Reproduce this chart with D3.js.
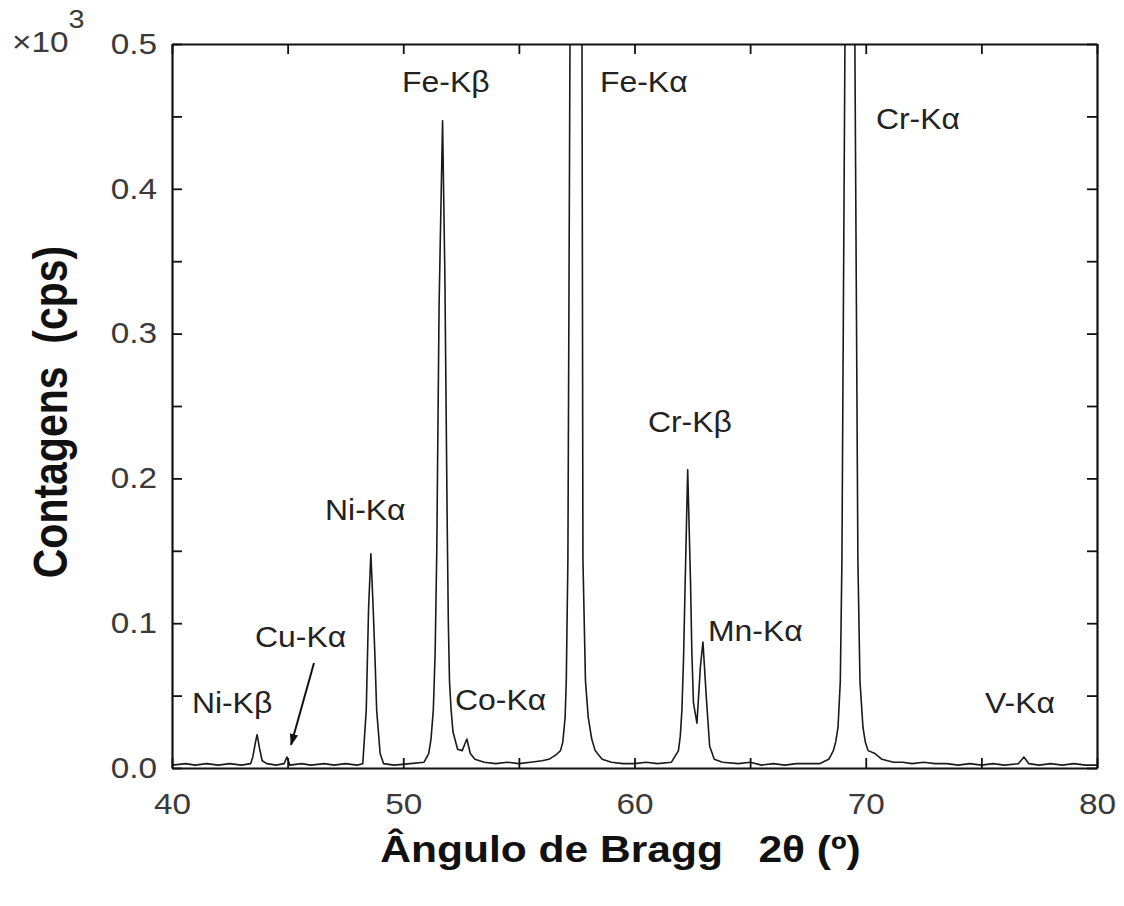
<!DOCTYPE html>
<html>
<head>
<meta charset="utf-8">
<script src="https://cdn.jsdelivr.net/npm/d3@7"></script>
<style>
  body { margin: 0; background: #fff; }
  text { font-family: "Liberation Sans", Arial, sans-serif; }
</style>
</head>
<body>
<div id="chart"></div>
<script>
// spectrum: 2theta (deg) and counts (x10^3 cps)
const theta = [
  40.0, 40.6, 41.0, 41.5, 42.0, 42.5, 43.0, 43.4, 43.5, 43.6, 43.68, 43.78, 43.9, 44.1, 44.5, 44.85, 44.97, 45.1, 45.6, 46.0, 46.6, 47.0, 47.5, 48.0,
  48.25, 48.4, 48.45, 48.5, 48.6, 48.7, 48.78, 48.85, 49.0, 49.15, 49.6, 50.3,
  50.9, 51.1, 51.2, 51.3, 51.38, 51.45, 51.55, 51.7, 51.8, 51.9, 51.95, 52.0, 52.07, 52.15, 52.35, 52.55, 52.75, 52.9, 53.1, 53.5, 54.0, 54.5, 55.0, 55.5, 56.0, 56.3, 56.5,
  56.6, 56.8, 56.9, 57.0, 57.05, 57.12, 57.21, 57.3, 57.47, 57.65, 57.73, 57.77, 57.88, 58.0, 58.15, 58.3, 58.45, 58.6, 59.0, 59.5, 60.0, 60.5, 61.0, 61.6,
  61.9, 61.98, 62.05, 62.12, 62.18, 62.3, 62.42, 62.48, 62.55, 62.7, 62.85, 62.96, 63.1, 63.25, 63.45, 63.8, 64.5, 65.0, 65.5, 66.0, 66.5, 67.0, 67.5, 68.0,
  68.4, 68.6, 68.7, 68.8, 68.9, 68.97, 69.1, 69.2, 69.3, 69.42, 69.53, 69.66, 69.75, 69.88, 69.98, 70.1, 70.4, 70.7, 71.2, 71.6, 72.0, 72.5, 73.0, 73.5, 74.0, 74.5, 75.0,
  75.5, 76.0, 76.6, 76.84, 77.05, 77.5, 78.0, 78.5, 79.0, 79.5, 80.0
];
const counts = [
  0.002, 0.003, 0.002, 0.003, 0.002, 0.003, 0.002, 0.003, 0.008, 0.017, 0.023, 0.014, 0.005, 0.003, 0.002, 0.003, 0.0076, 0.002, 0.003, 0.002, 0.003, 0.002, 0.003, 0.002,
  0.003, 0.04, 0.075, 0.11, 0.148, 0.11, 0.075, 0.04, 0.01, 0.003, 0.002, 0.003,
  0.004, 0.01, 0.02, 0.04, 0.08, 0.15, 0.32, 0.447, 0.34, 0.17, 0.1, 0.06, 0.04, 0.025, 0.013, 0.012, 0.02, 0.01, 0.006, 0.004, 0.003, 0.004, 0.003, 0.004, 0.005, 0.006, 0.008,
  0.009, 0.012, 0.018, 0.035, 0.06, 0.144, 0.5, 1.2, 2.0, 1.2, 0.5, 0.144, 0.06, 0.035, 0.02, 0.012, 0.009, 0.006, 0.004, 0.003, 0.003, 0.004, 0.003, 0.004,
  0.012, 0.022, 0.04, 0.075, 0.12, 0.206, 0.13, 0.08, 0.045, 0.031, 0.07, 0.087, 0.05, 0.015, 0.006, 0.004, 0.003, 0.004, 0.002, 0.003, 0.002, 0.003, 0.003, 0.003,
  0.006, 0.012, 0.018, 0.028, 0.06, 0.144, 0.5, 1.2, 2.0, 1.2, 0.5, 0.144, 0.06, 0.028, 0.018, 0.012, 0.01, 0.006, 0.004, 0.004, 0.003, 0.004, 0.003, 0.003, 0.002, 0.003, 0.002,
  0.003, 0.002, 0.003, 0.0076, 0.003, 0.002, 0.003, 0.002, 0.003, 0.002, 0.002
];

// tick values
const xTicks = [40, 45, 50, 55, 60, 65, 70, 75, 80];
const xTickLabels = ["40", "", "50", "", "60", "", "70", "", "80"];
const yTicks = [0, 0.05, 0.1, 0.15, 0.2, 0.25, 0.3, 0.35, 0.4, 0.45, 0.5];
const yTickLabels = ["0.0", "", "0.1", "", "0.2", "", "0.3", "", "0.4", "", "0.5"];

// peak names and where they sit (2theta, counts of text baseline)
const peakNames = ["Ni-Kβ", "Cu-Kα", "Ni-Kα", "Fe-Kβ", "Fe-Kα", "Co-Kα", "Cr-Kβ", "Mn-Kα", "Cr-Kα", "V-Kα"];
const peakLabelX = [40.86, 43.59, 46.62, 49.95, 58.51, 52.24, 60.58, 63.18, 70.44, 75.16];
const peakLabelY = [0.038, 0.0836, 0.171, 0.467, 0.467, 0.040, 0.232, 0.088, 0.441, 0.038];

const width = 1124, height = 906;
const margin = { top: 44, right: 27, bottom: 138, left: 172 };
const w = width - margin.left - margin.right;
const h = height - margin.top - margin.bottom;
const stretch = 1.15;

const svg = d3.select("#chart").append("svg")
  .attr("width", width).attr("height", height);

const g = svg.append("g").attr("transform", `translate(${margin.left},${margin.top})`);

const x = d3.scaleLinear().domain([40, 80]).range([0, w]);
const y = d3.scaleLinear().domain([0, 0.5]).range([h, 0]);

g.append("clipPath").attr("id", "clip")
  .append("rect").attr("width", w).attr("height", h);

// spectrum
const line = d3.line().x(d => x(d[0])).y(d => y(d[1]));
g.append("path")
  .datum(d3.zip(theta, counts))
  .attr("clip-path", "url(#clip)")
  .attr("fill", "none")
  .attr("stroke", "#1a1a1a")
  .attr("stroke-width", 1.6)
  .attr("stroke-linejoin", "round")
  .attr("d", line);

// axes, ticks inward
const xBottom = g.append("g").attr("transform", `translate(0,${h})`)
  .call(d3.axisBottom(x).tickValues(xTicks).tickSizeInner(-10).tickSizeOuter(0).tickPadding(25)
    .tickFormat((d, i) => xTickLabels[i]));
const yLeft = g.append("g")
  .call(d3.axisLeft(y).tickValues(yTicks).tickSizeInner(-10).tickSizeOuter(0).tickPadding(15)
    .tickFormat((d, i) => yTickLabels[i]));
const xTop = g.append("g")
  .call(d3.axisTop(x).tickValues(xTicks).tickSizeInner(-10).tickSizeOuter(0).tickFormat(""));
const yRight = g.append("g").attr("transform", `translate(${w},0)`)
  .call(d3.axisRight(y).tickValues(yTicks).tickSizeInner(-10).tickSizeOuter(0).tickFormat(""));

[xBottom, yLeft, xTop, yRight].forEach(a => {
  a.select(".domain").attr("stroke", "#111").attr("stroke-width", 2.2);
  a.selectAll(".tick line").attr("stroke", "#111").attr("stroke-width", 1.8);
  a.selectAll(".tick text")
    .attr("font-size", 29)
    .attr("font-family", "'Liberation Sans', Arial, sans-serif")
    .attr("fill", "#3a3a3a")
    .attr("transform", `scale(${stretch},1)`);
});
yLeft.selectAll(".tick text").attr("x", -15 / stretch);

// x10^3
const mult = svg.append("text")
  .attr("transform", `translate(12,52) scale(${stretch},1)`)
  .attr("font-size", 29).attr("fill", "#3a3a3a");
mult.append("tspan").text("×10");
mult.append("tspan").attr("dy", -24).attr("font-size", 25).text("3");

// peak labels
peakNames.forEach((name, i) => {
  g.append("text")
    .attr("transform", `translate(${x(peakLabelX[i])},${y(peakLabelY[i])}) scale(1.1,1)`)
    .attr("font-size", 29)
    .attr("fill", "#222")
    .text(name);
});

// arrow to Cu-Kα
svg.append("defs").append("marker")
  .attr("id", "arrow").attr("viewBox", "0 0 10 10")
  .attr("refX", 9).attr("refY", 5)
  .attr("markerWidth", 6).attr("markerHeight", 6)
  .attr("orient", "auto")
  .append("path").attr("d", "M0,1.5 L10,5 L0,8.5 z").attr("fill", "#111");
g.append("line")
  .attr("x1", x(46.14)).attr("y1", y(0.0725))
  .attr("x2", x(45.15)).attr("y2", y(0.016))
  .attr("stroke", "#111").attr("stroke-width", 2)
  .attr("marker-end", "url(#arrow)");

// axis titles
svg.append("text")
  .attr("transform", `translate(${margin.left + w / 2 - 14},862) scale(${stretch},1)`)
  .attr("text-anchor", "middle")
  .style("white-space", "pre")
  .attr("font-size", 37).attr("font-weight", "bold").attr("fill", "#111")
  .text("Ângulo de Bragg   2θ (º)");

svg.append("text")
  .attr("transform", `translate(67,412) scale(${stretch},1) rotate(-90)`)
  .attr("text-anchor", "middle")
  .style("white-space", "pre")
  .attr("font-size", 41).attr("font-weight", "bold").attr("fill", "#111")
  .text("Contagens  (cps)");
</script>
</body>
</html>
